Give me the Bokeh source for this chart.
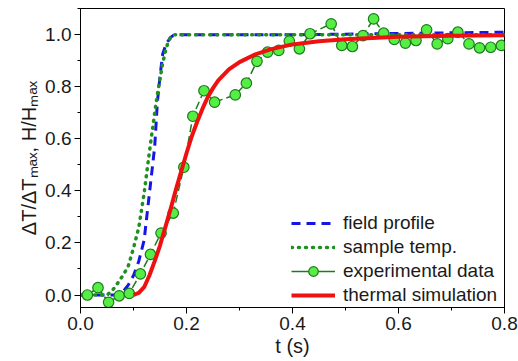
from bokeh.plotting import figure
from bokeh.models import (Range1d, SingleIntervalTicker, NumeralTickFormatter,
                          Legend, LegendItem)
from bokeh.embed import file_html
from bokeh.resources import INLINE

# ---- data ----
field_t = [0.0, 0.07, 0.08, 0.09, 0.10, 0.11, 0.12, 0.13, 0.135, 0.14, 0.145, 0.15,
           0.155, 0.16, 0.165, 0.17, 0.175, 0.18, 0.25, 0.4, 0.6, 0.8]
field_v = [0.0, 0.0, 0.012, 0.038, 0.075, 0.13, 0.21, 0.39, 0.48, 0.57, 0.74, 0.84,
           0.925, 0.955, 0.975, 0.99, 0.997, 1.0, 1.0, 1.0, 1.005, 1.01]

sample_t = [0.0, 0.05, 0.06, 0.07, 0.08, 0.09, 0.10, 0.11, 0.12, 0.13, 0.14, 0.145,
            0.15, 0.155, 0.16, 0.165, 0.17, 0.175, 0.8]
sample_v = [0.0, 0.0, 0.017, 0.045, 0.075, 0.11, 0.18, 0.26, 0.39, 0.55, 0.70, 0.77,
            0.83, 0.89, 0.935, 0.97, 0.99, 1.0, 1.0]

exp_t = [0.013, 0.033, 0.053, 0.073, 0.092, 0.113, 0.132, 0.152, 0.175, 0.195,
         0.212, 0.233, 0.253, 0.292, 0.313, 0.333, 0.353, 0.374, 0.394, 0.413,
         0.433, 0.473, 0.493, 0.513, 0.533, 0.553, 0.572, 0.592, 0.613, 0.633,
         0.653, 0.673, 0.693, 0.712, 0.733, 0.753, 0.774, 0.794]
exp_v = [0.0, 0.028, -0.028, -0.003, 0.006, 0.081, 0.156, 0.238, 0.315, 0.491,
         0.687, 0.785, 0.741, 0.769, 0.814, 0.898, 0.933, 0.940, 0.976, 0.946,
         1.004, 1.042, 0.959, 0.955, 0.997, 1.061, 1.006, 0.982, 0.968, 0.978,
         1.019, 0.965, 0.985, 1.010, 0.965, 0.950, 0.952, 0.959]

sim_t = [0.10, 0.11, 0.12, 0.13, 0.14, 0.15, 0.16, 0.17, 0.18, 0.19, 0.20, 0.21,
         0.22, 0.23, 0.24, 0.25, 0.26, 0.28, 0.30, 0.33, 0.36, 0.40, 0.45, 0.50,
         0.55, 0.60, 0.70, 0.80]
sim_v = [0.0, 0.008, 0.03, 0.075, 0.13, 0.19, 0.26, 0.33, 0.405, 0.475, 0.545, 0.61,
         0.665, 0.715, 0.76, 0.795, 0.825, 0.867, 0.895, 0.925, 0.945, 0.963, 0.975,
         0.983, 0.988, 0.992, 0.996, 0.998]

labels = ["field profile", "sample temp.", "experimental data", "thermal simulation"]

FONT = "Liberation Sans"

p = figure(width=518, height=361, output_backend="svg", toolbar_location=None,
           x_range=Range1d(0, 0.8), y_range=Range1d(-0.048, 1.101),
           min_border_left=80, min_border_right=14, min_border_top=8,
           min_border_bottom=54)
p.background_fill_color = "white"
p.border_fill_color = "white"
p.outline_line_color = "black"
p.outline_line_width = 1
p.xgrid.visible = False
p.ygrid.visible = False

for ax, lab in ((p.xaxis[0], "t (s)"), (p.yaxis[0], "ΔT/ΔTₘₐₓ, H/Hₘₐₓ")):
    ax.ticker = SingleIntervalTicker(interval=0.2, num_minor_ticks=2)
    ax.formatter = NumeralTickFormatter(format="0.0")
    ax.axis_label = lab
    ax.axis_label_text_font = FONT
    ax.axis_label_text_font_size = "20px"
    ax.axis_label_text_font_style = "normal"
    ax.axis_label_text_color = "#1a1a1a"
    ax.major_label_text_font = FONT
    ax.major_label_text_font_size = "19px"
    ax.major_label_text_color = "#1a1a1a"
    ax.axis_line_color = "black"
    ax.major_tick_line_color = "black"
    ax.minor_tick_line_color = "black"
    ax.major_tick_out = 6
    ax.major_tick_in = 0
    ax.minor_tick_out = 3
    ax.minor_tick_in = 0
    ax.major_label_standoff = 3
    ax.axis_label_standoff = 2

r_field = p.line(field_t, field_v, line_color="#1515e6", line_width=3, line_dash="9 6")
r_sample = p.line(sample_t, sample_v, line_color="#1f8f1f", line_width=3.5, line_dash="1 6",
                  line_cap="round")
r_exp_line = p.line(exp_t, exp_v, line_color="#1e7a1e", line_width=1.5, line_dash="8 4")
r_exp_pts = p.scatter(exp_t, exp_v, size=10.5, fill_color="#55ee44", line_color="#1e7a1e",
                      line_width=1.2)
r_sim = p.line(sim_t, sim_v, line_color="#ee1111", line_width=4, line_join="round")

# legend-only solid line for experimental data (kept outside the visible range)
r_leg_line = p.line(x=[-1.0, -0.9], y=[0.0, 0.0], line_color="#1e7a1e", line_width=1.5)

legend = Legend(items=[
    LegendItem(label=labels[0], renderers=[r_field]),
    LegendItem(label=labels[1], renderers=[r_sample]),
    LegendItem(label=labels[2], renderers=[r_leg_line, r_exp_pts]),
    LegendItem(label=labels[3], renderers=[r_sim]),
], location=(211, 0))
legend.label_text_font = FONT
legend.label_text_font_size = "19px"
legend.label_text_color = "#1a1a1a"
legend.glyph_width = 44
legend.glyph_height = 24
legend.label_height = 24
legend.label_standoff = 8
legend.spacing = 0
legend.padding = 0
legend.margin = 0
legend.border_line_alpha = 0
legend.background_fill_alpha = 0
p.add_layout(legend, "center")

open("out.html", "w").write(file_html(p, INLINE))
